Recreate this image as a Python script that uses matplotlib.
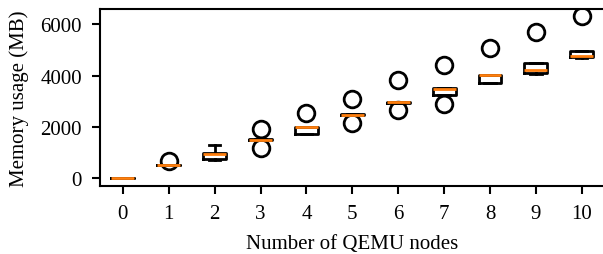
import matplotlib
matplotlib.use("Agg")
import matplotlib.pyplot as plt

nodes = [0, 1, 2, 3, 4, 5, 6, 7, 8, 9, 10]
medians = [0, 510, 940, 1500, 1990, 2480, 2965, 3490, 4010, 4220, 4770]
q1 = [0, 500, 760, 1480, 1740, 2460, 2940, 3260, 3720, 4120, 4720]
q3 = [10, 520, 1000, 1510, 2010, 2490, 2980, 3510, 4010, 4490, 4970]
whislo = [0, 500, 700, 1480, 1720, 2460, 2940, 3260, 3700, 4060, 4670]
whishi = [10, 520, 1290, 1510, 2010, 2490, 2980, 3510, 4010, 4490, 4970]
fliers = [[], [660], [], [1920, 1175], [2535], [3100, 2155], [3815, 2665],
          [4430, 2875], [5060], [5700], [6320]]

plt.rcParams['font.family'] = ['Liberation Serif', 'DejaVu Serif']
plt.rcParams['font.size'] = 15

fig = plt.figure(figsize=(6.03, 2.55), dpi=100)
ax = fig.add_axes([0.1658, 0.267, 0.837, 0.694])

stats = []
for i in range(len(nodes)):
    stats.append(dict(med=medians[i], q1=q1[i], q3=q3[i], whislo=whislo[i],
                      whishi=whishi[i], fliers=fliers[i], label=str(nodes[i])))

ax.bxp(stats, positions=nodes, widths=0.5,
       boxprops=dict(linewidth=2, color='black'),
       whiskerprops=dict(linewidth=2, color='black'),
       capprops=dict(linewidth=2, color='black'),
       medianprops=dict(linewidth=2, color='#ff7f0e'),
       flierprops=dict(marker='o', markersize=12, markerfacecolor='none',
                       markeredgecolor='black', markeredgewidth=2))

ax.set_xlim(-0.5, 10.5)
ax.set_ylim(-300, 6600)
ax.set_yticks([0, 2000, 4000, 6000])
ax.set_xlabel('Number of QEMU nodes', labelpad=8)
ax.set_ylabel('Memory usage (MB)', labelpad=8)
for s in ax.spines.values():
    s.set_linewidth(1.5)
ax.tick_params(width=1.5, length=6, pad=7)

fig.savefig('out.png', dpi=100)
